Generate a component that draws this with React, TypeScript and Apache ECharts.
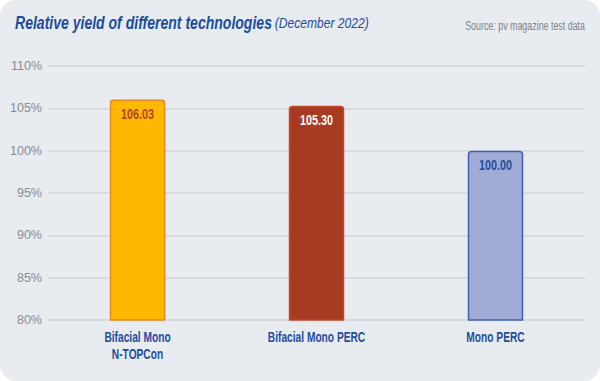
import React, { useEffect, useRef } from "react";
import * as echarts from "echarts";

const categories = ["Bifacial Mono\nN-TOPCon", "Bifacial Mono PERC", "Mono PERC"];
const values = [106.03, 105.3, 100.0];
const valueLabels = ["106.03", "105.30", "100.00"];
const barFills = ["#fcb900", "#a93a22", "#a0acd6"];
const barBorders = ["#e9861c", "#c24a2a", "#3d62b0"];
const labelColors = ["#b2441c", "#ffffff", "#1f4e9c"];
const yMin = 80;
const yMax = 110;
const yStep = 5;

const FONT = "'Liberation Sans', sans-serif";

export default function App() {
  const ref = useRef<HTMLDivElement>(null);
  useEffect(() => {
    if (!ref.current) return;
    const chart = echarts.init(ref.current, undefined, { renderer: "svg" });
    const baseGraphics: any[] = [
      {
        id: "bg",
        type: "rect",
        z: -10,
        shape: { x: 0, y: 0, width: 600, height: 381, r: 16 },
        style: { fill: "#e8ebef" },
        silent: true,
      },
      {
        id: "title",
        type: "text",
        x: 15,
        y: 22,
        scaleX: 0.78,
        style: {
          x: 0,
          y: 0,
          verticalAlign: "middle",
          rich: {
            a: { fontFamily: FONT, fontSize: 18, fontWeight: "bold", fontStyle: "italic", fill: "#1b4d9e" },
            b: { fontFamily: FONT, fontSize: 15.5, fontStyle: "italic", fill: "#1b4d9e" },
          },
          text: "{a|Relative yield of different technologies} {b|(December 2022)}",
        },
      },
      {
        id: "source",
        type: "text",
        x: 585,
        y: 25,
        scaleX: 0.74,
        style: {
          x: 0,
          y: 0,
          align: "right",
          verticalAlign: "middle",
          text: "Source: pv magazine test data",
          fontFamily: FONT,
          fontSize: 12,
          fill: "#7d848c",
        },
      },
    ];
    chart.setOption({
      animation: false,
      backgroundColor: "transparent",
      graphic: baseGraphics,
      grid: { left: 48, right: 15, top: 66, bottom: 61, containLabel: false },
      xAxis: {
        type: "category",
        data: categories,
        axisLine: { show: false },
        axisTick: { show: false },
        axisLabel: { show: false },
      },
      yAxis: {
        type: "value",
        min: yMin,
        max: yMax,
        interval: yStep,
        axisLine: { show: false },
        axisTick: { show: false },
        axisLabel: {
          formatter: "{value}%",
          color: "#868d96",
          fontFamily: FONT,
          fontSize: 12.5,
          margin: 6,
        },
        splitLine: { lineStyle: { color: "#d2d6db", width: 1.5 } },
      },
      series: [
        {
          type: "bar",
          barWidth: "31%",
          data: values.map((v, i) => ({
            value: v,
            itemStyle: {
              color: barFills[i],
              borderColor: barBorders[i],
              borderWidth: 1.5,
              borderRadius: [3, 3, 0, 0],
            },
          })),
        },
      ],
    });

    const extra: any[] = [];
    categories.forEach((c, i) => {
      const base = chart.convertToPixel({ gridIndex: 0 }, [i, yMin]) as number[];
      const top = chart.convertToPixel({ gridIndex: 0 }, [i, values[i]]) as number[];
      extra.push({
        id: "cat" + i,
        type: "text",
        z: 20,
        x: base[0],
        y: base[1] + 8,
        scaleX: 0.68,
        style: {
          x: 0,
          y: 0,
          align: "center",
          verticalAlign: "top",
          text: c,
          fontFamily: FONT,
          fontSize: 15,
          lineHeight: 17,
          fontWeight: "bold",
          fill: "#1f4ea0",
        },
      });
      extra.push({
        id: "val" + i,
        type: "text",
        z: 20,
        x: top[0],
        y: top[1] + 15,
        scaleX: 0.77,
        style: {
          x: 0,
          y: 0,
          align: "center",
          verticalAlign: "middle",
          text: valueLabels[i],
          fontFamily: FONT,
          fontSize: 14,
          fontWeight: "bold",
          fill: labelColors[i],
        },
      });
    });
    chart.setOption({ graphic: [...baseGraphics, ...extra] });
    return () => chart.dispose();
  }, []);
  return (
    <div
      ref={ref}
      style={{ position: "absolute", left: 0, top: 0, width: 600, height: 381, background: "#ffffff" }}
    />
  );
}
